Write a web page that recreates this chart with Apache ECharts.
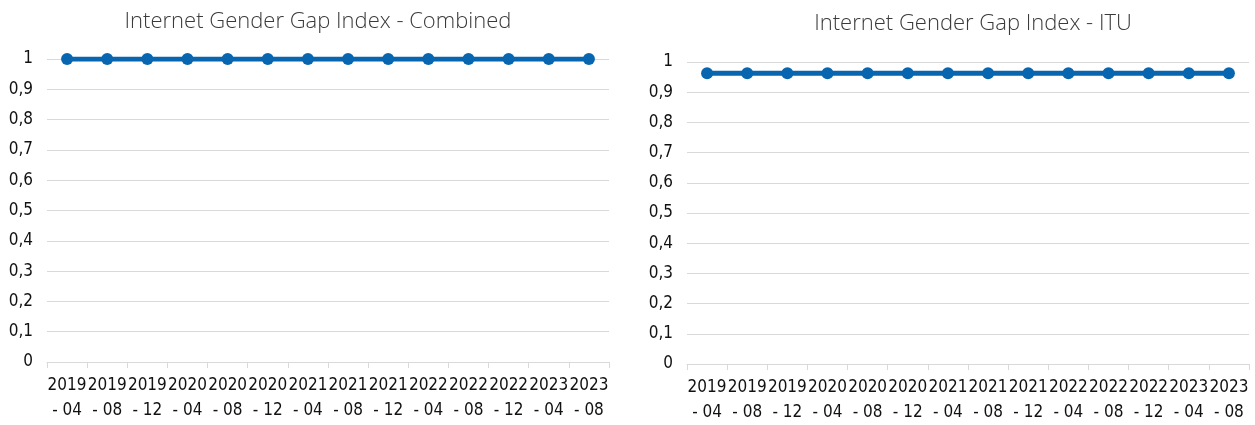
<!DOCTYPE html>
<html>
<head>
<meta charset="UTF-8">
<title>Internet Gender Gap Index</title>
<script type="text/javascript" src="https://cdn.jsdelivr.net/npm/echarts@6/dist/echarts.min.js"></script>
<style type="text/css">
	body{ margin:0; background:#fff; }
	#main{ width:1255px; height:425px; }
</style>
</head>
<body>
<div id="main"></div>
<script type="text/javascript">
	// data
	var categories = ['2019\n- 04','2019\n- 08','2019\n- 12','2020\n- 04','2020\n- 08','2020\n- 12',
		'2021\n- 04','2021\n- 08','2021\n- 12','2022\n- 04','2022\n- 08','2022\n- 12','2023\n- 04','2023\n- 08'];
	var combinedValues = [1,1,1,1,1,1,1,1,1,1,1,1,1,1];
	var ituValues = [0.963,0.963,0.963,0.963,0.963,0.963,0.963,0.963,0.963,0.963,0.963,0.963,0.963,0.963];
	var titles = ['Internet Gender Gap Index - Combined', 'Internet Gender Gap Index - ITU'];

	var labelFont = '"DejaVu Sans Condensed", sans-serif';
	var lineColor = '#0866b0';

	function xAxisFor(i){
		return {
			type:'category', gridIndex:i, data:categories, boundaryGap:true,
			axisLine:{ lineStyle:{ color:'#d9d9d9', width:1 } },
			axisTick:{ show:true, length:6, lineStyle:{ color:'#d9d9d9' } },
			axisLabel:{ interval:0, color:'#111', fontFamily:labelFont, fontSize:17, lineHeight:25, margin:11 }
		};
	}
	function yAxisFor(i){
		return {
			type:'value', gridIndex:i, min:0, max:1, interval:0.1,
			axisLine:{ show:false }, axisTick:{ show:false },
			splitLine:{ lineStyle:{ color:'#d9d9d9', width:1 } },
			axisLabel:{ color:'#111', fontFamily:labelFont, fontSize:17, margin:14,
				formatter:function(v){ return String(Math.round(v*10)/10).replace('.', ','); } }
		};
	}
	function seriesFor(i, data){
		return {
			type:'line', xAxisIndex:i, yAxisIndex:i, data:data,
			symbol:'circle', symbolSize:12,
			lineStyle:{ color:lineColor, width:5 },
			itemStyle:{ color:lineColor },
			animation:false
		};
	}

	var myChart = echarts.init(document.getElementById('main'));
	var option = {
		animation:false,
		title:[
			{ text:titles[0], left:313, top:6, textAlign:'center',
				textStyle:{ fontFamily:'"Open Sans", sans-serif', fontWeight:300, fontSize:22, color:'#3a3a3a' } },
			{ text:titles[1], left:968, top:8, textAlign:'center',
				textStyle:{ fontFamily:'"Open Sans", sans-serif', fontWeight:300, fontSize:22, color:'#3a3a3a' } }
		],
		grid:[
			{ left:47, right:646, top:59, bottom:63 },
			{ left:687, right:6, top:62, bottom:59 }
		],
		xAxis:[ xAxisFor(0), xAxisFor(1) ],
		yAxis:[ yAxisFor(0), yAxisFor(1) ],
		series:[ seriesFor(0, combinedValues), seriesFor(1, ituValues) ]
	};
	myChart.setOption(option);
</script>
</body>
</html>
